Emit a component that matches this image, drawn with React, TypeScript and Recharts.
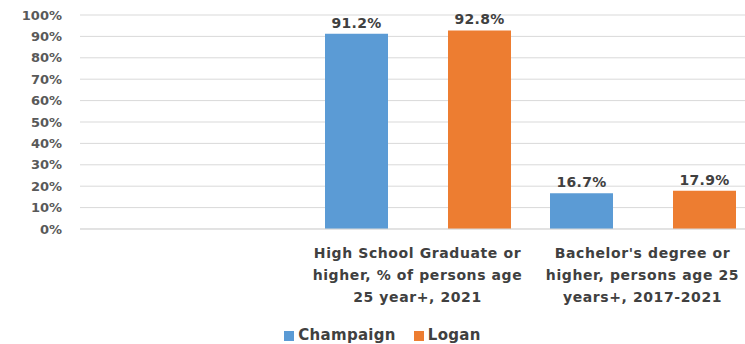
import { BarChart, Bar, XAxis, YAxis, CartesianGrid, Legend, LabelList } from "recharts";

const categories = [
  "",
  "High School Graduate or|higher, % of persons age|25 year+, 2021",
  "Bachelor's degree or|higher, persons age 25|years+, 2017-2021",
];
const champaign = [null, 91.2, 16.7];
const logan = [null, 92.8, 17.9];
const yTicks = [0, 10, 20, 30, 40, 50, 60, 70, 80, 90, 100];

const FONT = "'DejaVu Sans', sans-serif";

const data = categories.map((name, i) => ({
  name,
  champaign: champaign[i],
  logan: logan[i],
}));

// category names carry "|" where the reference breaks the line
const CategoryTick = ({ x, y, payload }: any) => {
  const lines = String(payload.value).split("|");
  return (
    <text x={x} y={y} textAnchor="middle" fill="#404040" fontSize={14} fontWeight={700} fontFamily={FONT} letterSpacing={0.6}>
      {lines.map((line, i) => (
        <tspan key={i} x={x} dy={i === 0 ? 21 : 22}>
          {line}
        </tspan>
      ))}
    </text>
  );
};

const labelStyle = { fontSize: 14, fontWeight: 700, fill: "#404040", fontFamily: FONT, letterSpacing: 0.3 };

export default function App() {
  return (
    <div style={{ position: "absolute", left: 0, top: 0, width: 745, height: 344, overflow: "hidden", background: "#fff" }}>
      <BarChart
        width={770}
        height={344}
        data={data}
        margin={{ top: 15, right: 15, left: 0, bottom: 0 }}
        barCategoryGap={20}
        barGap={60}
        barSize={63}
      >
        <CartesianGrid vertical={false} stroke="#d9d9d9" />
        <XAxis
          dataKey="name"
          interval={0}
          height={88}
          tickLine={false}
          axisLine={{ stroke: "#d9d9d9" }}
          tick={<CategoryTick />}
        />
        <YAxis
          width={80}
          domain={[0, 100]}
          ticks={yTicks}
          interval={0}
          axisLine={false}
          tickLine={false}
          tickMargin={12}
          tickFormatter={(v: number) => `${v}%`}
          tick={{ fontSize: 13, fontWeight: 700, fill: "#595959", fontFamily: FONT }}
        />
        <Legend
          verticalAlign="bottom"
          height={27}
          iconType="square"
          iconSize={10}
          wrapperStyle={{ fontFamily: FONT, fontSize: 15, fontWeight: 700, letterSpacing: 0.3, bottom: -9, paddingLeft: 28, boxSizing: "border-box" }}
          formatter={(value: string) => <span style={{ color: "#404040", marginRight: 8 }}>{value}</span>}
        />
        <Bar dataKey="champaign" name="Champaign" fill="#5B9BD5" isAnimationActive={false}>
          <LabelList
            dataKey="champaign"
            position="top"
            offset={6}
            formatter={(v: any) => (v == null ? "" : `${v}%`)}
            style={labelStyle}
          />
        </Bar>
        <Bar dataKey="logan" name="Logan" fill="#ED7D31" isAnimationActive={false}>
          <LabelList
            dataKey="logan"
            position="top"
            offset={6}
            formatter={(v: any) => (v == null ? "" : `${v}%`)}
            style={labelStyle}
          />
        </Bar>
      </BarChart>
    </div>
  );
}
